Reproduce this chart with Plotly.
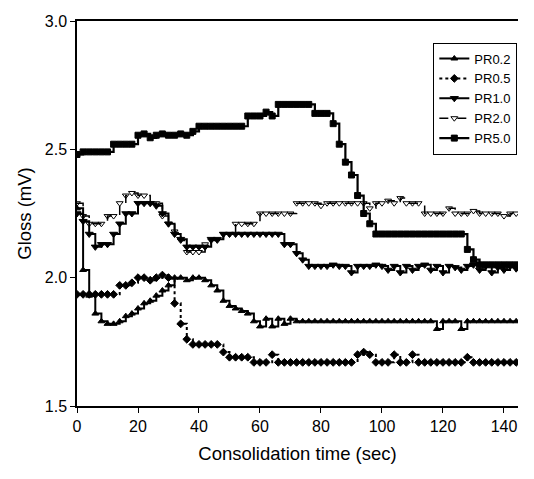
import plotly.graph_objects as go

time_s = list(range(0, 151, 2))

pr02 = [2.27, 2.03, 1.93, 1.86, 1.83, 1.82, 1.82, 1.83, 1.85, 1.86,
        1.88, 1.90, 1.91, 1.93, 1.95, 1.97, 2.00, 2.00, 1.99, 2.00,
        2.00, 1.99, 1.97, 1.95, 1.91, 1.89, 1.88, 1.87, 1.86,
        1.83, 1.81, 1.84, 1.81, 1.84, 1.82, 1.84, 1.83, 1.83, 1.83,
        1.83, 1.83, 1.83, 1.83, 1.83, 1.83, 1.83, 1.83, 1.83, 1.83,
        1.83, 1.83, 1.83, 1.83, 1.83, 1.83, 1.83, 1.83, 1.83, 1.83,
        1.80, 1.83, 1.83, 1.83, 1.80, 1.83, 1.83, 1.83, 1.83, 1.83,
        1.83, 1.83, 1.83, 1.83, 1.83, 1.83, 1.83]

pr05 = [1.935, 1.935, 1.935, 1.935, 1.935, 1.935, 1.935,
        1.97, 1.97, 1.98, 2.00, 2.00, 1.99, 2.00, 2.01, 2.00,
        1.90, 1.82, 1.76,
        1.74, 1.74, 1.74, 1.74, 1.74,
        1.71,
        1.69, 1.69, 1.69, 1.69,
        1.67, 1.67, 1.67, 1.70, 1.67, 1.67, 1.67, 1.67, 1.67, 1.67,
        1.67, 1.67, 1.67, 1.67, 1.67, 1.67, 1.67, 1.70, 1.71, 1.70,
        1.67, 1.67, 1.67, 1.70, 1.67, 1.67, 1.70, 1.67, 1.67, 1.67,
        1.67, 1.67, 1.67, 1.67, 1.67, 1.69, 1.67, 1.67, 1.67, 1.67,
        1.67, 1.67, 1.67, 1.67, 1.67, 1.67, 1.67]

pr10 = [2.25, 2.22, 2.17, 2.12, 2.13, 2.13, 2.17, 2.21, 2.25, 2.25,
        2.29, 2.29, 2.29, 2.28, 2.25, 2.21, 2.17, 2.15, 2.12, 2.12,
        2.12, 2.12, 2.15, 2.15, 2.17,
        2.17, 2.17, 2.17, 2.17, 2.17, 2.17, 2.17, 2.17, 2.17,
        2.13, 2.13, 2.095, 2.07,
        2.045, 2.045, 2.045, 2.045, 2.05, 2.045, 2.045, 2.02, 2.045, 2.045,
        2.045, 2.05, 2.045, 2.03, 2.045, 2.02, 2.045, 2.03, 2.045, 2.05,
        2.03, 2.045, 2.02, 2.045, 2.04, 2.03, 2.045, 2.05, 2.03, 2.045,
        2.02, 2.04, 2.03, 2.045, 2.035, 2.04, 2.025, 2.04]

pr20 = [2.29, 2.24, 2.21, 2.21, 2.21, 2.24, 2.24, 2.29, 2.32, 2.33,
        2.32, 2.32, 2.29, 2.29, 2.24, 2.21, 2.18, 2.145, 2.10, 2.10,
        2.10, 2.13, 2.145, 2.145, 2.17, 2.17, 2.21, 2.21, 2.21, 2.21,
        2.25, 2.25, 2.25, 2.25, 2.25, 2.25,
        2.29,
        2.29, 2.29, 2.29, 2.28, 2.29, 2.29, 2.29, 2.29, 2.29, 2.29,
        2.29, 2.27, 2.29, 2.29, 2.30, 2.29, 2.31, 2.29, 2.29, 2.29,
        2.25, 2.25, 2.25, 2.25, 2.27, 2.25, 2.25, 2.25, 2.26, 2.25,
        2.25, 2.25, 2.25, 2.24, 2.25, 2.25, 2.25, 2.25, 2.25]

pr50 = [2.48, 2.49, 2.49, 2.49, 2.49, 2.49,
        2.52, 2.52, 2.52, 2.52,
        2.555, 2.56, 2.545, 2.555, 2.56, 2.555, 2.555, 2.56, 2.555, 2.57,
        2.59, 2.59, 2.59, 2.59, 2.59, 2.59, 2.59, 2.59,
        2.63, 2.63, 2.63, 2.645, 2.63,
        2.675, 2.675, 2.675, 2.675, 2.675, 2.675,
        2.64, 2.64, 2.64,
        2.60, 2.52, 2.45, 2.40, 2.32, 2.25, 2.21, 2.17,
        2.17, 2.17, 2.17, 2.17, 2.17, 2.17, 2.17, 2.17, 2.17, 2.17,
        2.17, 2.17, 2.17, 2.17,
        2.11, 2.07,
        2.05, 2.05, 2.05, 2.05, 2.05, 2.05, 2.05, 2.05, 2.05,
        1.98]

series = [
    ("PR0.2", pr02, "solid", "triangle-up", 6, 2.0),
    ("PR0.5", pr05, "dot", "diamond", 6, 2.0),
    ("PR1.0", pr10, "solid", "triangle-down", 7, 2.0),
    ("PR2.0", pr20, "dash", "triangle-down-open", 6, 1.5),
    ("PR5.0", pr50, "solid", "square", 6, 2.2),
]

fig = go.Figure()
for name, vals, dash, sym, size, lw in series:
    fig.add_trace(go.Scatter(
        x=time_s, y=vals, name=name, mode="lines+markers",
        line=dict(color="black", width=lw, dash=dash, shape="hv"),
        marker=dict(symbol=sym, size=size, color="black",
                    line=dict(color="black", width=1)),
    ))

font = "Liberation Sans, Arial, sans-serif"
fig.update_layout(
    width=534, height=479,
    margin=dict(l=69, r=24, t=5, b=81),
    paper_bgcolor="white", plot_bgcolor="white",
    font=dict(family=font, size=16, color="black"),
    showlegend=True,
    legend=dict(x=0.808, y=0.944, xanchor="left", yanchor="top",
                bordercolor="black", borderwidth=1, bgcolor="white",
                font=dict(size=13), tracegroupgap=0,
                itemwidth=30),
    xaxis=dict(range=[0, 144.6], tickvals=[0, 20, 40, 60, 80, 100, 120, 140],
               ticks="outside", ticklen=5, tickcolor="black",
               showline=True, linecolor="black", linewidth=1.5,
               showgrid=False, zeroline=False, mirror=True,
               title=dict(text="Consolidation time (sec)", font=dict(size=18.5), standoff=13)),
    yaxis=dict(range=[1.5, 3.0], tickvals=[1.5, 2.0, 2.5, 3.0],
               ticktext=["1.5", "2.0", "2.5", "3.0"],
               ticks="outside", ticklen=5, tickcolor="black",
               showline=True, linecolor="black", linewidth=1.5,
               showgrid=False, zeroline=False, ticklabeloverflow="allow",
               title=dict(text="Gloss (mV)", font=dict(size=18.5), standoff=8)),
)

fig.write_html("out.html")
